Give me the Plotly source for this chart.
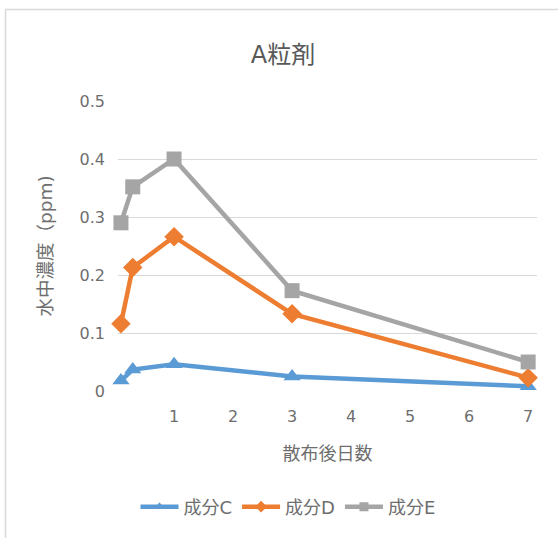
import plotly.graph_objects as go

days = [0.1, 0.3, 1, 3, 7]
comp_c = [0.018, 0.037, 0.046, 0.025, 0.008]
comp_d = [0.116, 0.213, 0.266, 0.133, 0.023]
comp_e = [0.290, 0.352, 0.400, 0.173, 0.050]
names = ["成分C", "成分D", "成分E"]
colors = ["#5B9BD5", "#ED7D31", "#A5A5A5"]
symbols = ["triangle-up", "diamond", "square"]
x_ticks = [1, 2, 3, 4, 5, 6, 7]
y_ticks = [0, 0.1, 0.2, 0.3, 0.4, 0.5]
y_tick_text = ["0", "0.1", "0.2", "0.3", "0.4", "0.5"]

W, H = 558, 538
L, R, T, B = 118, 21, 101, 147
FONT = "DejaVu Sans, Noto Sans CJK JP, sans-serif"
TXT = "#6E6E6E"
TITLE = "#595959"

fig = go.Figure()
for name, vals, col, sym in zip(names, [comp_c, comp_d, comp_e], colors, symbols):
    fig.add_trace(go.Scatter(
        x=days, y=vals, name=name, mode="lines+markers",
        line=dict(color=col, width=4.5),
        marker=dict(symbol=sym, size=15, color=col),
        cliponaxis=False, showlegend=False,
    ))
# legend entries with smaller markers
for name, col, sym in zip(names, colors, symbols):
    fig.add_trace(go.Scatter(
        x=[None], y=[None], name=name, mode="lines+markers",
        line=dict(color=col, width=4.5),
        marker=dict(symbol=sym, size=9, color=col),
        showlegend=True,
    ))

pw = W - L - R
ph = H - T - B
def px2x(px):
    return (px - L) / pw
def py2y(py):
    return (H - B - py) / ph

fig.update_layout(
    width=W, height=H,
    margin=dict(l=L, r=R, t=T, b=B),
    paper_bgcolor="white", plot_bgcolor="white",
    font=dict(family=FONT, color=TXT, size=16),
    title=dict(text="A粒剤", x=283 / W, xanchor="center", y=1 - 55 / H, yanchor="middle",
               font=dict(size=24, color=TITLE, family=FONT)),
    xaxis=dict(range=[0.05, 7.15], tickvals=x_ticks, showgrid=False, zeroline=False,
               showline=False, ticks="", ticklabelstandoff=14, tickfont=dict(size=16, color=TXT),
               title=dict(text="散布後日数", font=dict(size=18, color=TXT), standoff=22)),
    yaxis=dict(range=[0, 0.5], tickvals=y_ticks, ticktext=y_tick_text, showgrid=True,
               gridcolor="#D9D9D9", gridwidth=1.2, zeroline=False, showline=False,
               ticks="", ticklabelstandoff=12, tickfont=dict(size=16, color=TXT),
               title=dict(text="水中濃度（ppm)", font=dict(size=18.5, color=TXT), standoff=22)),
    legend=dict(orientation="h", xref="container", x=288 / W, xanchor="center",
                yref="container", y=1 - 507 / H, yanchor="middle",
                font=dict(size=18, color=TXT), itemwidth=38, tracegroupgap=0),
    showlegend=True,
    shapes=[
        dict(type="line", xref="paper", yref="paper", x0=px2x(5.5), x1=px2x(W), y0=py2y(9.5), y1=py2y(9.5),
             line=dict(color="#D9D9D9", width=1.5)),
        dict(type="line", xref="paper", yref="paper", x0=px2x(5.5), x1=px2x(5.5), y0=py2y(9.5), y1=py2y(H),
             line=dict(color="#D9D9D9", width=1.5)),
    ],
)

fig.write_html("out.html")
